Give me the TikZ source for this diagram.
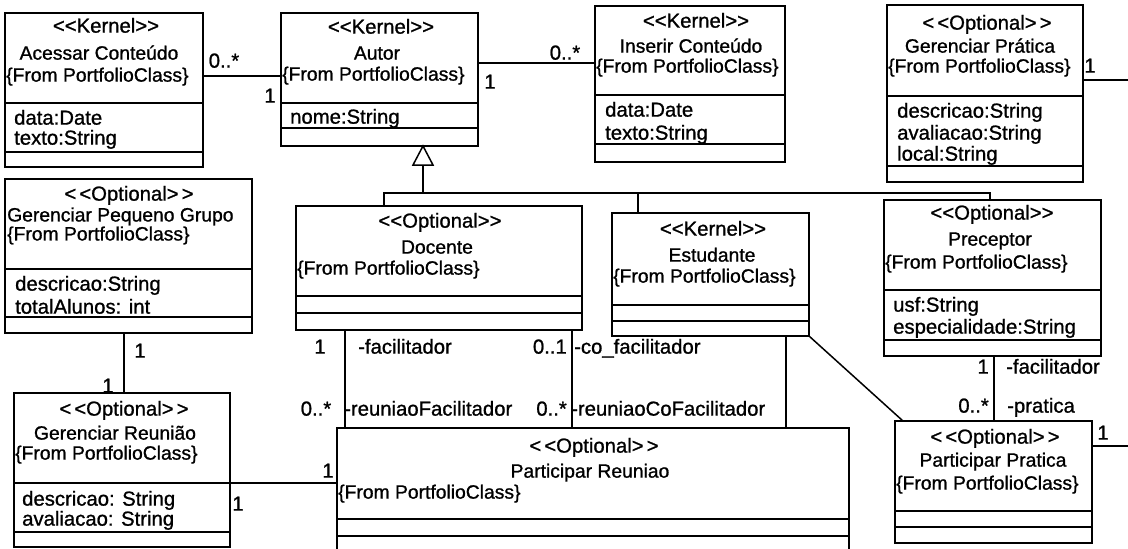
\documentclass[tikz,border=0pt]{standalone}
\usepackage{fontspec}
\setmainfont{Liberation Sans}[FakeBold=1]
% stereotype brackets: a kern keeps << and >> from turning into guillemets
\newcommand\st[1]{<\kern0pt<#1>\kern0pt>}
\newcommand\stw[1]{<\kern3pt<#1>\kern3pt>}
\tikzset{
  box/.style={draw, line width=1.5pt, inner sep=0pt, outer sep=0pt},
  divider/.style={line width=1.5pt},
  conn/.style={line width=1.5pt},
  txt/.style={inner sep=0pt, yshift=-5pt},
  stereo/.style={txt, font=\fontsize{20.3}{22}\selectfont, anchor=mid},
  cname/.style={txt, font=\fontsize{19.3}{21}\selectfont, anchor=mid},
  from/.style={txt, font=\fontsize{19.3}{21}\selectfont, anchor=mid west},
  attr/.style={txt, font=\fontsize{20.3}{22}\selectfont, anchor=mid west},
  mult/.style={txt, font=\fontsize{20.3}{22}\selectfont, anchor=mid},
}
% class box: name, x1, y1, x2, y2, first divider, second divider
\newcommand\umlclass[7]{%
  \node[box, minimum width={(#4-#2)*1pt}, minimum height={(#5-#3)*1pt}] (#1) at ({(#2+#4)/2},{(#3+#5)/2}) {};
  \draw[divider] (#1.west |- 0,#6) -- (#1.east |- 0,#6);
  \draw[divider] (#1.west |- 0,#7) -- (#1.east |- 0,#7);
}
\begin{document}
\begin{tikzpicture}[x=1pt,y=-1pt]
\useasboundingbox (0,0) rectangle (1128,549);
\clip (0,0) rectangle (1128,549);

% ---------- classes ----------
\umlclass{acc}{5}{13}{203}{167}{103}{152}
\node[stereo] (acc-s) at (106,25) {\st{Kernel}};
\node[cname] (acc-n) at (99,52) {Acessar Conteúdo};
\node[from] (acc-f) at (6,74) {\{From PortfolioClass\}};
\node[attr] (acc-a1) at (14,117) {data:Date};
\node[attr] (acc-a2) at (14,137) {texto:String};

\umlclass{aut}{281}{13}{478}{146}{103}{128}
\node[stereo] (aut-s) at (381,26) {\st{Kernel}};
\node[cname] (aut-n) at (377,52) {Autor};
\node[from] (aut-f) at (282,73) {\{From PortfolioClass\}};
\node[attr] (aut-a1) at (290,116) {nome:String};

\umlclass{ins}{595}{6}{785}{162}{95}{144}
\node[stereo] (ins-s) at (696,20) {\st{Kernel}};
\node[cname] (ins-n) at (691,45) {Inserir Conteúdo};
\node[from] (ins-f) at (596,65) {\{From PortfolioClass\}};
\node[attr] (ins-a1) at (605,109) {data:Date};
\node[attr] (ins-a2) at (605,132) {texto:String};

\umlclass{gpr}{887}{5}{1083}{182}{96}{166}
\node[stereo] (gpr-s) at (987,22) {\stw{Optional}};
\node[cname] (gpr-n) at (980,45) {Gerenciar Prática};
\node[from] (gpr-f) at (888,65) {\{From PortfolioClass\}};
\node[attr] (gpr-a1) at (897,110) {descricao:String};
\node[attr] (gpr-a2) at (897,132) {avaliacao:String};
\node[attr] (gpr-a3) at (897,153) {local:String};

\umlclass{gpg}{5}{179}{252}{333}{269}{317}
\node[stereo] (gpg-s) at (129,193) {\stw{Optional}};
\node[from, anchor=west, align=left, font=\fontsize{19.3}{17}\selectfont] (gpg-n) at (7,221)
  {Gerenciar Pequeno Grupo\\\{From PortfolioClass\}};
\node[attr] (gpg-a1) at (15,283) {descricao:String};
\node[attr] (gpg-a2) at (15,306) {totalAlunos: int};

\umlclass{doc}{296}{206}{582}{330}{296}{313}
\node[stereo] (doc-s) at (440,220) {\st{Optional}};
\node[cname] (doc-n) at (437,246) {Docente};
\node[from] (doc-f) at (297,267) {\{From PortfolioClass\}};

\umlclass{est}{612}{213}{809}{336}{305}{321}
\node[stereo] (est-s) at (713,228) {\st{Kernel}};
\node[cname] (est-n) at (712,254) {Estudante};
\node[from] (est-f) at (613,275) {\{From PortfolioClass\}};

\umlclass{pre}{884}{200}{1101}{356}{290}{340}
\node[stereo] (pre-s) at (992,212) {\st{Optional}};
\node[cname] (pre-n) at (990,238) {Preceptor};
\node[from] (pre-f) at (885,261) {\{From PortfolioClass\}};
\node[attr] (pre-a1) at (893,304) {usf:String};
\node[attr] (pre-a2) at (893,326) {especialidade:String};

\umlclass{gre}{14}{393}{230}{547}{483}{532}
\node[stereo] (gre-s) at (124,408) {\stw{Optional}};
\node[cname] (gre-n) at (115,432) {Gerenciar Reunião};
\node[from] (gre-f) at (15,452) {\{From PortfolioClass\}};
\node[attr] (gre-a1) at (22,498) {descricao: String};
\node[attr] (gre-a2) at (22,518) {avaliacao: String};

\umlclass{prn}{337}{428}{849}{560}{519}{536}
\node[stereo] (prn-s) at (594,445) {\stw{Optional}};
\node[cname] (prn-n) at (590,470) {Participar Reuniao};
\node[from] (prn-f) at (338,491) {\{From PortfolioClass\}};

\umlclass{ppr}{895}{421}{1092}{543}{511}{527}
\node[stereo] (ppr-s) at (995,436) {\stw{Optional}};
\node[cname] (ppr-n) at (993,459) {Participar Pratica};
\node[from] (ppr-f) at (896,482) {\{From PortfolioClass\}};

% ---------- generalization to Autor ----------
\coordinate (tip) at (aut.south -| 423,0);
\draw[conn, line join=miter] (tip) -- ++(-10,19) -- ++(20,0) -- cycle;
\coordinate (bar) at (423,193);
\draw[conn] (tip) ++(0,19) -- (bar);
\draw[conn] (doc.north -| 384,0) -- (384,193) -- (990,193) -- (pre.north -| 990,0);
\draw[conn] (est.north -| 638,0) -- (638,193);

% ---------- associations ----------
\draw[conn] (acc.east |- 0,76) -- (aut.west |- 0,76);
\node[mult] (m1) at (224,60) {0..*};
\node[mult] (m2) at (270,95) {1};

\draw[conn] (aut.east |- 0,63) -- (ins.west |- 0,63);
\node[mult] (m3) at (565,52) {0..*};
\node[mult] (m4) at (490,81) {1};

\coordinate (gprR) at (1128,80);
\draw[conn] (gpr.east |- gprR) -- (gprR);
\node[mult] (m5) at (1090,65) {1};

\coordinate (pprR) at (1128,446);
\draw[conn] (ppr.east |- pprR) -- (pprR);
\node[mult] (m6) at (1103,432) {1};

\draw[conn] (gpg.south -| 124,0) -- (gre.north -| 124,0);
\node[mult] (m7) at (140,350) {1};
\node[mult] (m8) at (108,385) {1};

\draw[conn] (gre.east |- 0,483) -- (prn.west |- 0,483);
\node[mult] (m9) at (238,503) {1};
\node[mult] (m10) at (328,470) {1};

\draw[conn] (doc.south -| 345,0) -- (prn.north -| 345,0);
\node[mult] (m11) at (320,346) {1};
\node[mult, anchor=mid west] (r1) at (358,346) {-facilitador};
\node[mult] (m12) at (316,408) {0..*};
\node[mult, anchor=mid west] (r2) at (344,408) {-reuniaoFacilitador};

\draw[conn] (doc.south -| 572,0) -- (prn.north -| 572,0);
\node[mult, anchor=mid east] (m13) at (567,346) {0..1};
\node[mult, anchor=mid west] (r3) at (574,346) {-co\_facilitador};
\node[mult, anchor=mid east] (m14) at (567,408) {0..*};
\node[mult, anchor=mid west] (r4) at (571,408) {-reuniaoCoFacilitador};

\draw[conn] (est.south -| 786,0) -- (prn.north -| 786,0);
\draw[conn] (est.south east) -- (ppr.north -| 903,0);

\draw[conn] (pre.south -| 994,0) -- (ppr.north -| 994,0);
\node[mult, anchor=mid east] (m15) at (989,366) {1};
\node[mult, anchor=mid west] (r5) at (1006,366) {-facilitador};
\node[mult, anchor=mid east] (m16) at (989,405) {0..*};
\node[mult, anchor=mid west] (r6) at (1007,405) {-pratica};
\end{tikzpicture}
\end{document}
